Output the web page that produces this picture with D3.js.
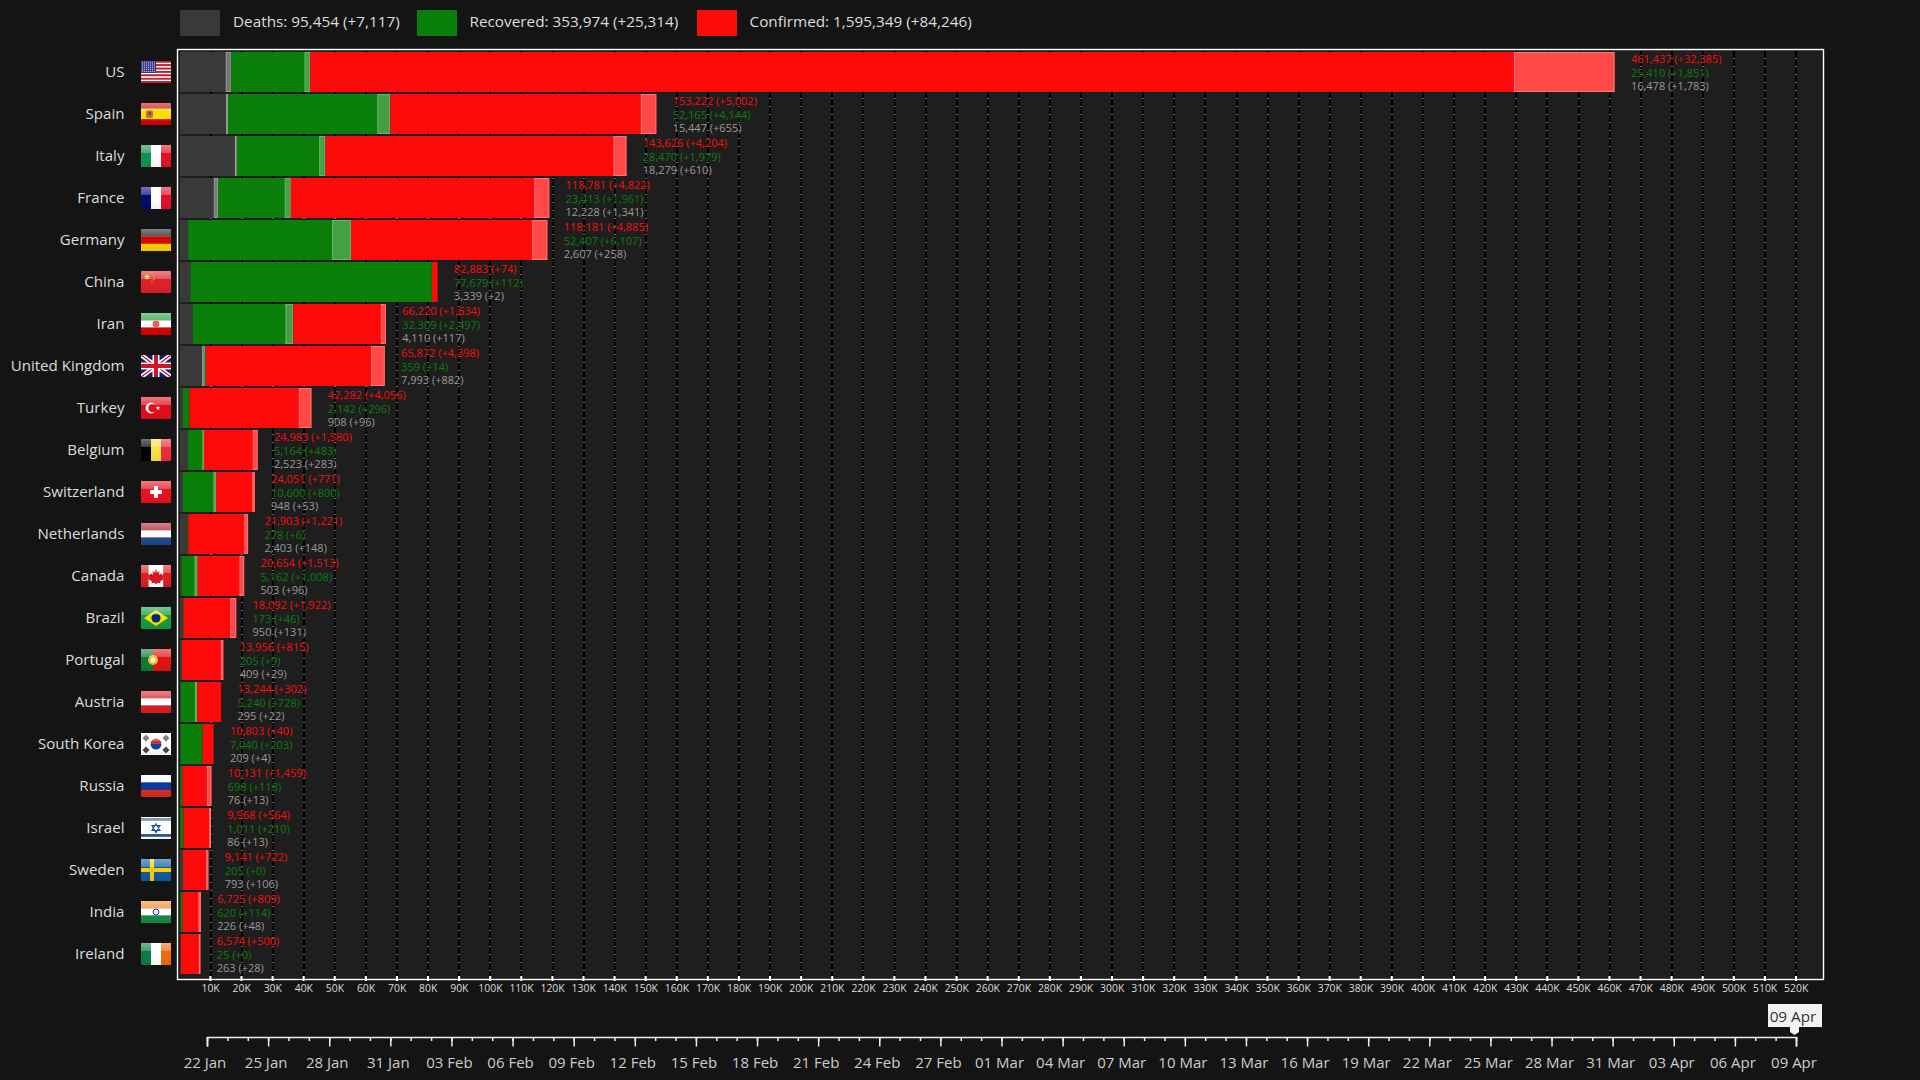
<!DOCTYPE html>
<html lang="en">
<head>
    <meta charset="UTF-8">
    <title>Covid-19 by country</title>
    <script src="https://d3js.org/d3.v7.min.js"></script>
    <style>
        html, body { margin: 0; background: #141414; overflow: hidden; }
        text { font-family: 'Open Sans', sans-serif; }
        .value { font-size: 11px; dominant-baseline: central; }
        .country { font-size: 15.1px; fill: #ddd; text-anchor: end; dominant-baseline: central; }
        .legend { font-size: 15.3px; fill: #ddd; dominant-baseline: central; }
        .xaxis text { font-size: 10.4px; fill: #ddd; }
        .xaxis line { stroke: #fff; stroke-width: 2; }
        .taxis text { font-size: 15px; fill: #ccc; }
        .taxis line { stroke: #eee; stroke-width: 1.5; }
    </style>
</head>
<body>
<script>
    const width = 1920;
    const height = 1080;

    const countries = ['US', 'Spain', 'Italy', 'France', 'Germany', 'China', 'Iran', 'United Kingdom', 'Turkey', 'Belgium',
        'Switzerland', 'Netherlands', 'Canada', 'Brazil', 'Portugal', 'Austria', 'South Korea', 'Russia', 'Israel', 'Sweden', 'India', 'Ireland'];
    const confirmed = [461437, 153222, 143626, 118781, 118181, 82883, 66220, 65872, 42282, 24983, 24051, 21903, 20654, 18092, 13956, 13244, 10803, 10131, 9968, 9141, 6725, 6574];
    const confirmedNew = [32385, 5002, 4204, 4822, 4885, 74, 1634, 4398, 4056, 1580, 771, 1221, 1513, 1922, 815, 302, 40, 1459, 564, 722, 809, 500];
    const recovered = [25410, 52165, 28470, 23413, 52407, 77679, 32309, 359, 2142, 5164, 10600, 278, 5162, 173, 205, 5240, 7040, 698, 1011, 205, 620, 25];
    const recoveredNew = [1851, 4144, 1979, 1961, 6107, 112, 2497, 14, 296, 483, 800, 6, 1008, 46, 9, 728, 203, 118, 210, 0, 114, 0];
    const deaths = [16478, 15447, 18279, 12228, 2607, 3339, 4110, 7993, 908, 2523, 948, 2403, 503, 950, 409, 295, 209, 76, 86, 793, 226, 263];
    const deathsNew = [1783, 655, 610, 1341, 258, 2, 117, 882, 96, 283, 53, 148, 96, 131, 29, 22, 4, 13, 13, 106, 48, 28];
    const xTicks = d3.range(10000, 530000, 10000);
    const legendLabels = ['Deaths: 95,454 (+7,117)', 'Recovered: 353,974 (+25,314)', 'Confirmed: 1,595,349 (+84,246)'];
    const startDate = new Date(Date.UTC(2020, 0, 22));
    const endDate = new Date(Date.UTC(2020, 3, 9));

    const colors = {
        deaths: {base: '#393939', hi: '#777', edge: '#999', text: '#9a9a9a'},
        recovered: {base: '#0a7f0a', hi: '#45a045', edge: '#6bb56b', text: '#0a7f0a'},
        confirmed: {base: '#ff0a0a', hi: '#ff4848', edge: '#ff7575', text: '#ff0a0a'}
    };

    const svg = d3.select('body').append('svg').attr('width', width).attr('height', height);

    const defs = svg.append('defs');
    const gloss = defs.append('linearGradient').attr('id', 'gloss').attr('x1', 0).attr('y1', 0).attr('x2', 0).attr('y2', 1);
    gloss.append('stop').attr('offset', 0).attr('stop-color', '#fff').attr('stop-opacity', .45);
    gloss.append('stop').attr('offset', .36).attr('stop-color', '#fff').attr('stop-opacity', .25);
    gloss.append('stop').attr('offset', .37).attr('stop-color', '#fff').attr('stop-opacity', 0);
    gloss.append('stop').attr('offset', 1).attr('stop-color', '#000').attr('stop-opacity', .06);
    defs.append('clipPath').attr('id', 'flagclip').append('rect').attr('width', 30).attr('height', 22);

    const x = d3.scaleLinear().domain([0, 520000]).range([180, 180 + 520 * 3.109]);
    const y = d3.scaleBand().domain(countries).range([51, 975]).paddingInner(2 / 42).paddingOuter(1 / 42);
    const t = d3.scaleUtc().domain([startDate, endDate]).range([207, 1796]);

    // plot background and frame
    svg.append('rect').attr('x', 177.5).attr('y', 49.5).attr('width', 1646).attr('height', 930).attr('fill', '#1e1e1e');

    // grid: black line, thin grey dashes on top
    const gridX = d => Math.round(x(d) - .5);
    const grid = svg.append('g');
    grid.selectAll('line.under').data(xTicks).enter().append('line')
        .attr('x1', gridX).attr('x2', gridX).attr('y1', 51).attr('y2', 976)
        .attr('stroke', '#707070').attr('stroke-width', 2);
    grid.selectAll('line.over').data(xTicks).enter().append('line')
        .attr('x1', gridX).attr('x2', gridX).attr('y1', 51).attr('y2', 976)
        .attr('stroke', '#000').attr('stroke-width', 2).attr('stroke-dasharray', '7 1');

    svg.append('rect').attr('x', 177.5).attr('y', 49.5).attr('width', 1646).attr('height', 930)
        .attr('fill', 'none').attr('stroke', '#fff').attr('stroke-width', 1.4);

    // bars
    const rows = svg.selectAll('g.row').data(countries).enter().append('g').attr('class', 'row');

    function segment(name, from, to, delta) {
        const c = colors[name];
        rows.append('rect')
            .attr('x', (d, i) => x(from(i)))
            .attr('y', d => y(d))
            .attr('width', (d, i) => x(to(i)) - x(from(i)))
            .attr('height', y.bandwidth())
            .attr('fill', c.base);
        rows.filter((d, i) => x(delta[i]) - x(0) > 1).append('rect')
            .attr('x', d => x(to(countries.indexOf(d)) - delta[countries.indexOf(d)]) + .5)
            .attr('y', d => y(d) + .5)
            .attr('width', d => x(delta[countries.indexOf(d)]) - x(0) - 1)
            .attr('height', y.bandwidth() - 1)
            .attr('fill', c.hi)
            .attr('stroke', c.edge);
    }
    segment('deaths', i => 0, i => deaths[i], deathsNew);
    segment('recovered', i => deaths[i], i => deaths[i] + recovered[i], recoveredNew);
    segment('confirmed', i => deaths[i] + recovered[i], i => confirmed[i], confirmedNew);

    // value labels right of each bar
    const fmt = d3.format(',');
    function valueLabel(vals, news, c, dy) {
        rows.append('text').attr('class', 'value')
            .attr('x', (d, i) => x(confirmed[i]) + 16.3)
            .attr('y', d => y(d) + dy)
            .attr('fill', c)
            .text((d, i) => fmt(vals[i]) + ' (+' + fmt(news[i]) + ')');
    }
    valueLabel(confirmed, confirmedNew, colors.confirmed.text, 6.8);
    valueLabel(recovered, recoveredNew, colors.recovered.text, 20.2);
    valueLabel(deaths, deathsNew, colors.deaths.text, 33.5);

    // country names and flags
    rows.append('text').attr('class', 'country')
        .attr('x', 124.5)
        .attr('y', d => y(d) + y.bandwidth() / 2 - 1)
        .text(d => d);

    const flags = rows.append('g')
        .attr('transform', d => `translate(141,${y(d) + 9})`)
        .attr('clip-path', 'url(#flagclip)');

    function hStripes(g, cols, weights) {
        const w = weights || cols.map(() => 1);
        const s = d3.scaleLinear().domain([0, d3.sum(w)]).range([0, 22]);
        cols.forEach((c, i) => g.append('rect').attr('y', s(d3.sum(w.slice(0, i)))).attr('width', 30).attr('height', s(w[i])).attr('fill', c));
    }
    function vStripes(g, cols, weights) {
        const w = weights || cols.map(() => 1);
        const s = d3.scaleLinear().domain([0, d3.sum(w)]).range([0, 30]);
        cols.forEach((c, i) => g.append('rect').attr('x', s(d3.sum(w.slice(0, i)))).attr('width', s(w[i])).attr('height', 22).attr('fill', c));
    }
    function star(g, cx, cy, r, c) {
        const pts = d3.range(10).map(i => {
            const a = -Math.PI / 2 + i * Math.PI / 5, q = i % 2 ? r * .42 : r;
            return [cx + q * Math.cos(a), cy + q * Math.sin(a)].join(',');
        }).join(' ');
        g.append('polygon').attr('points', pts).attr('fill', c);
    }
    const flagDraw = {
        'US': g => {
            hStripes(g, d3.range(13).map(i => i % 2 ? '#fff' : '#d8192c'));
            g.append('rect').attr('width', 15).attr('height', 12).attr('fill', '#2a2a80');
            d3.range(6).forEach(r => d3.range(7).forEach(c => g.append('rect').attr('x', .8 + c * 2).attr('y', .6 + r * 1.9).attr('width', 1).attr('height', 1).attr('fill', '#eef')));
        },
        'Spain': g => {
            hStripes(g, ['#d60000', '#ffdd00', '#d60000'], [1, 2, 1]);
            g.append('rect').attr('x', 5).attr('y', 7).attr('width', 7).attr('height', 8).attr('rx', 2).attr('fill', '#c8702a');
            g.append('rect').attr('x', 7.5).attr('y', 9).attr('width', 2.5).attr('height', 3).attr('fill', '#8a2a80');
        },
        'Italy': g => vStripes(g, ['#0f8f50', '#fff', '#e01020']),
        'France': g => vStripes(g, ['#000a70', '#fff', '#e00d2a']),
        'Germany': g => hStripes(g, ['#1a1a1a', '#dd0000', '#ffce00']),
        'China': g => {
            hStripes(g, ['#de1e24']);
            star(g, 6, 6, 3.4, '#ffde00');
            [[11, 2], [13, 5], [13, 8.5], [11, 11]].forEach(p => star(g, p[0], p[1], 1, '#ffde00'));
        },
        'Iran': g => {
            hStripes(g, ['#239f40', '#fff', '#da0000']);
            g.append('circle').attr('cx', 15).attr('cy', 11).attr('r', 3.4).attr('fill', '#e8605a');
        },
        'United Kingdom': g => {
            g.append('rect').attr('width', 30).attr('height', 22).attr('fill', '#10206e');
            g.append('path').attr('d', 'M0,0L30,22M30,0L0,22').attr('stroke', '#fff').attr('stroke-width', 4.5);
            g.append('path').attr('d', 'M0,0L30,22M30,0L0,22').attr('stroke', '#cf142b').attr('stroke-width', 1.4);
            g.append('path').attr('d', 'M15,0V22M0,11H30').attr('stroke', '#fff').attr('stroke-width', 7);
            g.append('path').attr('d', 'M15,0V22M0,11H30').attr('stroke', '#cf142b').attr('stroke-width', 4);
        },
        'Turkey': g => {
            hStripes(g, ['#e30a17']);
            g.append('circle').attr('cx', 10).attr('cy', 11).attr('r', 5.4).attr('fill', '#fff');
            g.append('circle').attr('cx', 11.6).attr('cy', 11).attr('r', 4.3).attr('fill', '#e30a17');
            star(g, 17, 11, 2.4, '#fff');
        },
        'Belgium': g => vStripes(g, ['#000', '#fae042', '#ed2939']),
        'Switzerland': g => {
            hStripes(g, ['#e8101c']);
            g.append('path').attr('d', 'M15,5V17M9,11H21').attr('stroke', '#fff').attr('stroke-width', 4);
        },
        'Netherlands': g => hStripes(g, ['#ae1c28', '#fff', '#21468b']),
        'Canada': g => {
            vStripes(g, ['#e01a1f', '#fff', '#e01a1f'], [1, 2, 1]);
            g.append('path').attr('d', 'M15,4l1.6,3 2,-1 -.7,4 2.6,-1.8 .7,1.8 2,-.3 -1,3.2 1,.7 -4,3 .3,1.6 -3.7,-.5 V19h-1.6v-1.3l-3.7,.5 .3,-1.6 -4,-3 1,-.7 -1,-3.2 2,.3 .7,-1.8 2.6,1.8 -.7,-4 2,1z').attr('fill', '#d8141a');
        },
        'Brazil': g => {
            hStripes(g, ['#109a3c']);
            g.append('polygon').attr('points', '15,3 27,11 15,19 3,11').attr('fill', '#fedf00');
            g.append('circle').attr('cx', 15).attr('cy', 11).attr('r', 4.6).attr('fill', '#002776');
        },
        'Portugal': g => {
            vStripes(g, ['#0a7a30', '#e01010'], [2, 3]);
            g.append('circle').attr('cx', 12).attr('cy', 11).attr('r', 5).attr('fill', '#e8c020');
            g.append('circle').attr('cx', 12).attr('cy', 11).attr('r', 2.6).attr('fill', '#eee');
        },
        'Austria': g => hStripes(g, ['#e01a22', '#fff', '#e01a22']),
        'South Korea': g => {
            hStripes(g, ['#fff']);
            g.append('path').attr('d', 'M9.5,11a5.5,5.5 0 0 1 11,0z').attr('fill', '#cd2e3a');
            g.append('path').attr('d', 'M9.5,11a5.5,5.5 0 0 0 11,0z').attr('fill', '#0047a0');
            [[5, 5], [25, 5], [5, 17], [25, 17]].forEach(p => g.append('rect').attr('x', p[0] - 2.5).attr('y', p[1] - 2.5).attr('width', 5).attr('height', 5)
                .attr('transform', `rotate(45 ${p[0]} ${p[1]})`).attr('fill', '#444'));
        },
        'Russia': g => hStripes(g, ['#fff', '#0039a6', '#d52b1e']),
        'Israel': g => {
            hStripes(g, ['#fff', '#1a4fa0', '#fff', '#1a4fa0', '#fff'], [.6, 1, 6, 1, 1]);
            g.append('path').attr('d', 'M15,6.5l4,7h-8zM15,15.5l4,-7h-8z').attr('fill', 'none').attr('stroke', '#1a4fa0').attr('stroke-width', 1.2);
        },
        'Sweden': g => {
            hStripes(g, ['#0a5aa0']);
            g.append('path').attr('d', 'M11,0V22M0,11H30').attr('stroke', '#fecc00').attr('stroke-width', 4);
        },
        'India': g => {
            hStripes(g, ['#f58a22', '#fff', '#138a40']);
            g.append('circle').attr('cx', 15).attr('cy', 11).attr('r', 3).attr('fill', '#dfe3f5').attr('stroke', '#2a3a90');
        },
        'Ireland': g => vStripes(g, ['#0a7a40', '#fff', '#ee6a08'])
    };
    flags.each(function (d) {
        flagDraw[d](d3.select(this));
    });
    flags.filter(d => d !== 'US' && d !== 'United Kingdom').append('rect')
        .attr('width', 30).attr('height', 22).attr('fill', 'url(#gloss)');

    // legend
    const legendColors = [colors.deaths.base, colors.recovered.base, colors.confirmed.base];
    const legendX = d3.scaleOrdinal().domain(legendLabels).range([180, 417, 697]);
    const legend = svg.selectAll('g.legenditem').data(legendLabels).enter().append('g')
        .attr('transform', d => `translate(${legendX(d)},10)`);
    legend.append('rect').attr('width', 40).attr('height', 26).attr('fill', (d, i) => legendColors[i]);
    legend.append('text').attr('class', 'legend').attr('x', (d, i) => i === 0 ? 53 : 52.5).attr('y', 11).text(d => d);

    // value axis
    const xAxis = d3.axisBottom(x).tickValues(xTicks).tickFormat(d => d / 1000 + 'K').tickSizeOuter(0).tickSize(2).tickPadding(4);
    const xg = svg.append('g').attr('class', 'xaxis').attr('transform', 'translate(0,979)').call(xAxis);
    xg.select('.domain').remove();
    xg.selectAll('.tick line').attr('y1', -3).attr('y2', 2).attr('x1', -1.2).attr('x2', -1.2);
    xg.selectAll('.tick text').attr('dx', -1);

    // time slider
    const majorDays = d3.utcDay.range(startDate, d3.utcDay.offset(endDate, 1), 3);
    const allDays = d3.utcDay.range(startDate, d3.utcDay.offset(endDate, 1));
    const timeAxis = d3.axisBottom(t).tickValues(majorDays).tickFormat(d3.utcFormat('%d %b')).tickSizeOuter(0).tickSize(9.5).tickPadding(11);
    const minorAxis = d3.axisBottom(t).tickValues(allDays).tickFormat('').tickSizeOuter(0).tickSize(4);
    const tm = svg.append('g').attr('class', 'taxis').attr('transform', 'translate(0,1037)').call(minorAxis);
    tm.select('.domain').remove();
    const tg = svg.append('g').attr('class', 'taxis').attr('transform', 'translate(0,1037)').call(timeAxis);
    tg.select('.domain').attr('stroke', '#eee').attr('stroke-width', 1.6);
    tg.selectAll('.tick text').attr('dx', -2.5);

    // current-date thumb and bubble
    const thumb = svg.append('g').attr('transform', `translate(${t(endDate) - 1.5},0)`);
    thumb.append('path').attr('d', 'M-4.5,1027V1032L0,1035L4.5,1032V1027Z').attr('fill', '#f2f2f2');
    thumb.append('rect').attr('x', -26.5).attr('y', 1004).attr('width', 54).attr('height', 23).attr('fill', '#f2f2f2');
    thumb.append('text').attr('x', -1.5).attr('y', 1015.5).attr('text-anchor', 'middle').attr('dominant-baseline', 'central')
        .attr('font-size', 15.3).attr('fill', '#333').text(d3.utcFormat('%d %b')(endDate));
</script>
</body>
</html>
